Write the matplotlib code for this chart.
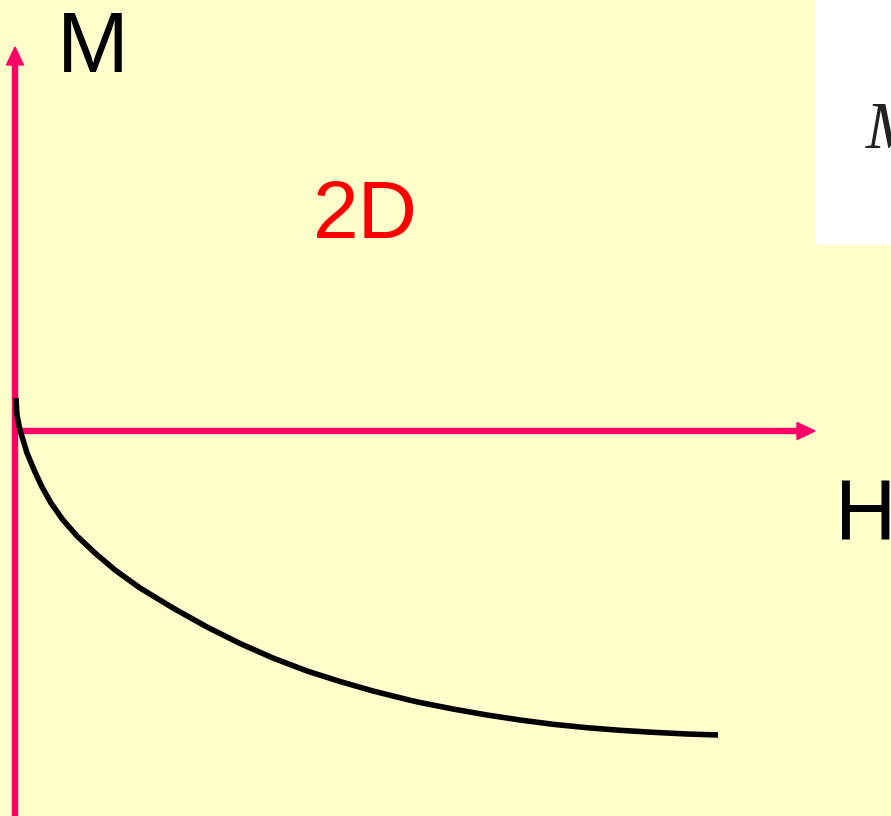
"""Sketch of 2D magnetisation M versus field H."""

import matplotlib

matplotlib.use("Agg")
import matplotlib.pyplot as plt
from matplotlib.patches import Rectangle

# curve, origin at the axis crossing (pixel units)
field_h = [1, 2, 5, 12, 20, 27, 36, 48, 62, 80, 100, 125, 158, 192, 225,
           258, 292, 325, 358, 392, 405, 438, 472, 505, 538, 572, 605,
           638, 672, 703]
moment_m = [33, 16, 1, -22, -41, -56, -72, -89, -105, -122, -139, -157,
            -177, -196, -212.5, -227, -240, -250.5, -260, -268.5, -271.5,
            -278, -284, -289, -293.3, -296.7, -299.3, -301.3, -303, -304]

bg = "#FFFFCC"
axis_color = "#FF0066"

fig = plt.figure(figsize=(8.91, 8.16), dpi=100, facecolor=bg)
ax = fig.add_axes([0, 0, 1, 1])
ax.set_facecolor(bg)
ax.set_xlim(-15, 876)
ax.set_ylim(-385, 431)
ax.axis("off")

# axes with arrow heads
ax.arrow(0, -390, 0, 774, width=5, head_width=17, head_length=18,
         length_includes_head=True, color=axis_color, zorder=2)
ax.arrow(0, 0, 800, 0, width=5, head_width=17, head_length=18,
         length_includes_head=True, color=axis_color, zorder=2)

ax.plot(field_h, moment_m, color="black", linewidth=4,
        solid_capstyle="butt", solid_joinstyle="round", zorder=3)

ax.text(42, 359, "M", fontsize=62, family="Liberation Sans", va="baseline")
ax.text(298, 193, "2D", fontsize=59, color="#FF0000",
        family="Liberation Sans", va="baseline")
ax.text(820, -109, "H", fontsize=61, family="Liberation Sans", va="baseline")

# white inset box cut off at the right edge
ax.add_patch(Rectangle((800, 186), 100, 260, facecolor="white",
                       edgecolor="none", zorder=1))
ax.text(851, 283, "M", fontsize=48, family="Liberation Serif",
        style="italic", color="#222222", va="baseline", zorder=4)

plt.savefig("out.png", dpi=100, facecolor=bg)
plt.close(fig)
